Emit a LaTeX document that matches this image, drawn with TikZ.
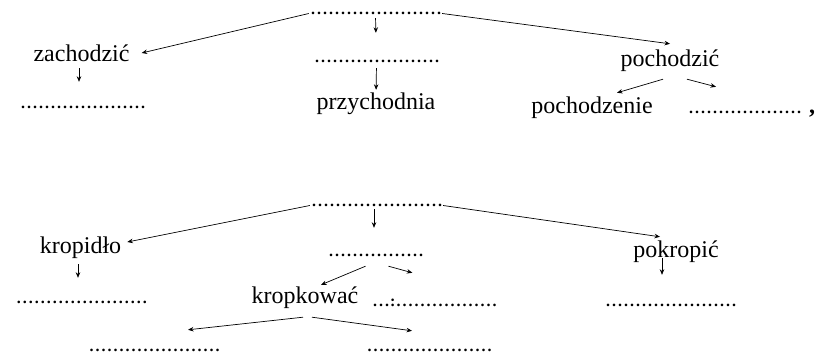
\documentclass[tikz,border=0pt]{standalone}
\usepackage{fontspec}
\setmainfont{Liberation Serif}
\usetikzlibrary{arrows.meta}
\newcommand{\dotrow}[1]{\foreach \k in {1,...,#1}{\hspace{1pt}.\hspace{1pt}}}

\begin{document}
\begin{tikzpicture}[x=1pt,y=-1pt,
  wordnode/.style={font=\fontsize{24}{28}\selectfont, text height=12pt, text depth=0pt, inner xsep=9pt, inner ysep=3pt, anchor=base},
  dotnode/.style={font=\fontsize{16}{18}\selectfont\bfseries, text height=3pt, text depth=0pt, inner sep=1pt, anchor=base},
  arr/.style={-{Stealth[length=5.5pt,width=4.5pt]}, line width=0.7pt}]
  \useasboundingbox (0,0) rectangle (829,355);

  % first tree
  \node[dotnode] (t1) at (375.5,15) {\dotrow{22}};
  \node[wordnode] (zach) at (81.5,62) {zachodzić};
  \node[dotnode] (zd) at (82.5,109) {\dotrow{21}};
  \node[dotnode] (t2) at (376.5,63) {\dotrow{21}};
  \node[wordnode] (przy) at (376,110) {przychodnia};
  \node[wordnode] (poch) at (670,67) {pochodzić};
  \node[wordnode] (pzen) at (592,114) {pochodzenie};
  \node[dotnode, anchor=base west] (pd) at (687,114) {\dotrow{19}\hspace{7pt}{\fontsize{24}{28}\selectfont,}};

  \draw[arr] (t1.west) -- ([shift={(3,-3)}]zach.east);
  \draw[arr, shorten <=2pt, shorten >=26pt] (t1.south) -- (t2.north);
  \draw[arr] (t1.east) -- ([yshift=8pt]poch.north);
  \draw[arr, shorten <=3pt, shorten >=23pt] ([xshift=-2.5pt]zach.south) -- ([xshift=-3.5pt]zd.north);
  \draw[arr, shorten <=4pt, shorten >=5pt] (t2.south) -- (przy.north);
  \draw[arr] ([shift={(-7,9)}]poch.south) -- ([shift={(25,-6)}]pzen.north);
  \draw[arr] ([shift={(17,9)}]poch.south) -- ([shift={(29,-23)}]pd.north west);

  % second tree
  \node[dotnode] (b1) at (376.5,207) {\dotrow{22}};
  \node[wordnode] (krop) at (80.5,254) {kropidło};
  \node[dotnode] (kd) at (81.5,303) {\dotrow{22}};
  \node[dotnode] (b2) at (375.5,256) {\dotrow{16}};
  \node[wordnode] (kw) at (305,303) {kropkować};
  \node[dotnode, anchor=base west] (kwd) at (371,306) {\dotrow{3}:\dotrow{17}};
  \node[dotnode] (bl) at (154,351) {\dotrow{22}};
  \node[dotnode] (br) at (429,351) {\dotrow{21}};
  \node[wordnode] (pk) at (676,258) {pokropić};
  \node[dotnode] (pkd) at (670.5,306) {\dotrow{22}};

  \draw[arr] (b1.west) -- ([shift={(-3,-6)}]krop.east);
  \draw[arr, shorten <=1pt, shorten >=24pt] ([xshift=-2.5pt]b1.south) -- ([xshift=-1.5pt]b2.north);
  \draw[arr] (b1.east) -- ([shift={(-16,-6)}]pk.north);
  \draw[arr, shorten <=7pt, shorten >=21pt] ([xshift=-2.5pt]krop.south) -- ([xshift=-3.5pt]kd.north);
  \draw[arr] ([shift={(-10,9)}]b2.south) -- ([shift={(16,-3)}]kw.north);
  \draw[arr] ([shift={(13,9)}]b2.south) -- ([shift={(-22,-29)}]kwd.north);
  \draw[arr] ([shift={(-2,11)}]kw.south) -- ([shift={(34,-17)}]bl.north);
  \draw[arr] ([shift={(7,11)}]kw.south) -- ([shift={(-17,-16)}]br.north);
  \draw[arr] ([shift={(-14,-3)}]pk.south) -- ([shift={(-8.5,-27)}]pkd.north);
\end{tikzpicture}
\end{document}
